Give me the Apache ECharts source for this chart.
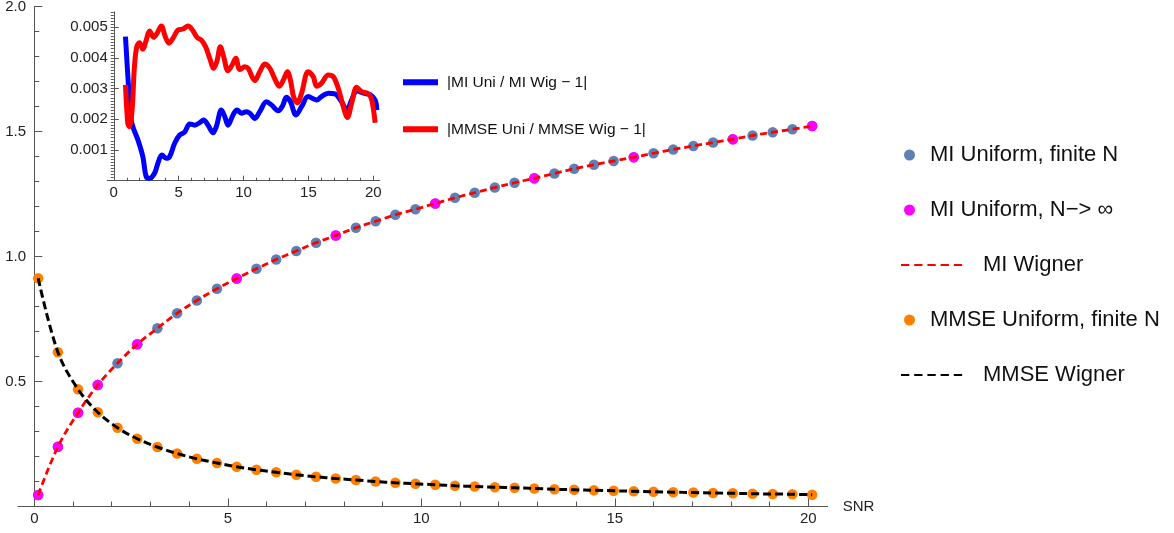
<!DOCTYPE html>
<html><head><meta charset="utf-8">
<script src="https://cdn.jsdelivr.net/npm/echarts@6/dist/echarts.min.js"></script>
<style>html,body{margin:0;padding:0;background:#fff}#c{width:1174px;height:533px}</style>
</head><body><div id="c"></div>
<script>
// ---- data ----
const snr = [0.1, 0.61, 1.13, 1.64, 2.15, 2.66, 3.18, 3.69, 4.2, 4.72, 5.23, 5.74, 6.25, 6.77, 7.28, 7.79, 8.31, 8.82, 9.33, 9.85,
  10.36, 10.87, 11.38, 11.9, 12.41, 12.92, 13.44, 13.95, 14.46, 14.97, 15.49, 16.0, 16.51, 17.03, 17.54, 18.05, 18.56, 19.08, 19.59, 20.1];
const miUniform = [0.046, 0.239, 0.375, 0.486, 0.573, 0.649, 0.713, 0.773, 0.824, 0.871, 0.912, 0.951, 0.988, 1.022, 1.055, 1.084, 1.115, 1.141, 1.167, 1.189,
  1.212, 1.235, 1.255, 1.276, 1.295, 1.313, 1.332, 1.351, 1.367, 1.382, 1.397, 1.413, 1.428, 1.442, 1.456, 1.469, 1.484, 1.497, 1.509, 1.522];
const miInfSnr = [0.1, 0.61, 1.13, 1.64, 2.66, 5.23, 7.79, 10.36, 12.92, 15.49, 18.05, 20.1];
const miInf = [0.046, 0.239, 0.375, 0.486, 0.649, 0.912, 1.084, 1.212, 1.313, 1.397, 1.469, 1.522];
const mmseUniform = [0.913, 0.617, 0.469, 0.377, 0.315, 0.271, 0.238, 0.212, 0.191, 0.174, 0.159, 0.147, 0.137, 0.127, 0.119, 0.112, 0.106, 0.1, 0.095, 0.091,
  0.087, 0.083, 0.08, 0.077, 0.075, 0.072, 0.069, 0.067, 0.065, 0.063, 0.061, 0.059, 0.057, 0.056, 0.054, 0.053, 0.051, 0.05, 0.049, 0.047];
// Wigner curves (pass through the finite-N points)
const miWigner = miUniform;
const mmseWigner = mmseUniform;

// inset: relative differences
const diffMiX = [0.9, 1.1, 1.3, 1.47, 1.86, 2.24, 2.5, 2.76, 3.14, 3.4, 3.71, 4.04, 4.3, 4.69, 5.08, 5.46, 5.85, 6.23, 6.62, 6.93,
  7.26, 7.65, 7.9, 8.29, 8.55, 8.8, 9.19, 9.5, 9.84, 10.22, 10.48, 10.87, 11.25, 11.77, 12.15, 12.67, 13.0, 13.3, 13.62, 14.04,
  14.47, 14.98, 15.63, 16.0, 16.53, 17.04, 17.56, 17.95, 18.33, 18.72, 19.24, 19.75, 20.14, 20.27];
const diffMi = [0.00469, 0.0033, 0.0021, 0.00176, 0.00133, 0.00078, 0.00013, 0.00008, 0.00024, 0.00057, 0.00084, 0.00073, 0.00078, 0.00122, 0.00149, 0.00158, 0.00185, 0.00181, 0.00189, 0.00198,
  0.00181, 0.00156, 0.00176, 0.0023, 0.00209, 0.00181, 0.00214, 0.0023, 0.0022, 0.00225, 0.0022, 0.00203, 0.00225, 0.00257, 0.00247, 0.00228, 0.00243, 0.00272, 0.00257, 0.00214,
  0.00241, 0.00274, 0.00263, 0.00274, 0.00285, 0.00283, 0.00257, 0.0023, 0.00263, 0.00293, 0.00285, 0.0028, 0.00263, 0.0023];
const diffMmseX = [0.9, 1.08, 1.2, 1.41, 1.59, 1.77, 1.98, 2.24, 2.5, 2.76, 3.07, 3.33, 3.66, 3.97, 4.25, 4.56, 4.95, 5.33, 5.72, 6.06,
  6.41, 6.75, 7.08, 7.39, 7.7, 7.96, 8.21, 8.47, 8.8, 9.12, 9.4, 9.71, 10.1, 10.35, 10.87, 11.25, 11.64, 12.03, 12.35, 12.76,
  13.07, 13.38, 13.64, 13.85, 14.15, 14.47, 14.98, 15.37, 15.63, 16.0, 16.53, 16.91, 17.3, 17.69, 18.0, 18.33, 18.72, 19.11, 19.62, 19.88, 20.14];
const diffMmse = [0.00312, 0.00187, 0.00176, 0.0023, 0.00371, 0.00436, 0.00449, 0.00428, 0.00458, 0.00488, 0.00467, 0.0048, 0.00504, 0.00469, 0.00448, 0.00464, 0.00491, 0.00494, 0.00504, 0.00491,
  0.00467, 0.00458, 0.00436, 0.00399, 0.00366, 0.00391, 0.00436, 0.00404, 0.00358, 0.00377, 0.00399, 0.00362, 0.00371, 0.00366, 0.00326, 0.00355, 0.0038, 0.00366, 0.00337, 0.00308,
  0.00328, 0.00355, 0.00322, 0.00274, 0.00254, 0.00285, 0.00355, 0.00339, 0.00308, 0.00317, 0.00344, 0.00339, 0.00301, 0.00241, 0.00206, 0.00252, 0.00304, 0.0029, 0.00283, 0.00263, 0.00189];

// tick positions
const xMainTicks = [0, 5, 10, 15, 20];
const xMainMinorTicks = [1, 2, 3, 4, 6, 7, 8, 9, 11, 12, 13, 14, 16, 17, 18, 19];
const xInsetTicks = [0, 5, 10, 15, 20];
const xInsetMinorTicks = [1, 2, 3, 4, 6, 7, 8, 9, 11, 12, 13, 14, 16, 17, 18, 19];
const yInsetTicks = [0.001, 0.002, 0.003, 0.004, 0.005];

const names = {
  miU: 'MI Uniform, finite N',
  miInf: 'MI Uniform, N\u2212> \u221E',
  miW: 'MI Wigner',
  mmU: 'MMSE Uniform, finite N',
  mmW: 'MMSE Wigner',
  dMi: '|MI Uni / MI Wig \u2212 1|',
  dMm: '|MMSE Uni / MMSE Wig \u2212 1|'
};

// ---- chart ----
const FONT = "'Liberation Sans', Arial, Helvetica, sans-serif";
const AX = '#555';
const TXT = '#222';
function pairs(xa, ya) { return xa.map((x, i) => [x, ya[i]]); }

function xAx(grid, min, max, ticks, len, labels, extra) {
  return Object.assign({
    gridIndex: grid, type: 'value', min: min, max: max, position: 'bottom',
    axisLine: { show: labels, onZero: true, lineStyle: { color: AX, width: 1 } },
    axisTick: { show: true, inside: true, length: len, customValues: ticks, lineStyle: { color: AX, width: 1 } },
    axisLabel: { show: labels, customValues: ticks, margin: 5, fontSize: 15, color: TXT, fontFamily: FONT },
    splitLine: { show: false }
  }, extra || {});
}

const chart = echarts.init(document.getElementById('c'), null, { renderer: 'canvas' });

function legendItem(name, left, rowY, kind, size) {
  const isDot = kind === 'dot', isBar = kind === 'bar';
  const lh = isBar ? 18 : 24;
  const o = {
    data: [name], left: left, top: rowY - lh / 2, padding: 0, selectedMode: false,
    itemWidth: isDot ? 11 : (isBar ? 35 : 63),
    itemHeight: isDot ? 11 : (isBar ? 6 : 14),
    textStyle: { fontSize: size, color: '#111', fontFamily: FONT, lineHeight: lh,
      padding: [0, 0, 0, isDot ? 10 : (isBar ? 4 : 14)] }
  };
  if (isBar) o.icon = 'rect';
  if (kind === 'line') {
    o.lineStyle = { width: 2, type: [8.3, 4.9], opacity: 1 };
    o.itemStyle = { opacity: 0 };
  }
  return o;
}

const option = {
  animation: false,
  backgroundColor: '#fff',
  textStyle: { fontFamily: FONT },
  grid: [
    { left: 18.05, top: 6.5, width: 809.6, height: 500, containLabel: false, outerBoundsMode: 'none' },
    { left: 107.3, top: 11.85, width: 272.5, height: 168.85, containLabel: false, outerBoundsMode: 'none' }
  ],
  xAxis: [
    xAx(0, -0.42, 20.5, xMainTicks, 8, true, {
      name: 'SNR', nameLocation: 'end', nameGap: 15,
      nameTextStyle: { fontSize: 15, color: TXT, fontFamily: FONT }
    }),
    xAx(0, -0.42, 20.5, xMainMinorTicks, 5, false),
    xAx(1, -0.5, 20.5, xInsetTicks, 5, true),
    xAx(1, -0.5, 20.5, xInsetMinorTicks, 3, false)
  ],
  yAxis: [
    {
      gridIndex: 0, type: 'value', min: 0, max: 2, interval: 0.5,
      axisLine: { show: true, onZero: true, lineStyle: { color: AX, width: 1 } },
      axisTick: { show: true, inside: true, length: 8, lineStyle: { color: AX } },
      minorTick: { show: true, splitNumber: 5, length: 5, lineStyle: { color: AX } },
      axisLabel: { margin: -8, fontSize: 15, color: TXT, fontFamily: FONT,
        formatter: v => (v === 0 ? '' : v.toFixed(1)) },
      splitLine: { show: false }, minorSplitLine: { show: false }
    },
    {
      gridIndex: 1, type: 'value', min: 0, max: 0.0055,
      axisLine: { show: true, onZero: true, lineStyle: { color: AX, width: 1 } },
      axisTick: { show: true, inside: true, length: 5, customValues: yInsetTicks, lineStyle: { color: AX } },
      axisLabel: { customValues: yInsetTicks, margin: -0.5, fontSize: 15, color: TXT, fontFamily: FONT,
        formatter: v => v.toFixed(3) },
      splitLine: { show: false }
    },
    {
      gridIndex: 1, type: 'value', min: 0, max: 0.0055, interval: 0.0001,
      axisLine: { show: false, onZero: true },
      axisTick: { show: true, inside: true, length: 3, lineStyle: { color: AX } },
      axisLabel: { show: false },
      splitLine: { show: false }
    }
  ],
  legend: [
    legendItem(names.miU, 904, 155, 'dot', 22),
    legendItem(names.miInf, 904, 210, 'dot', 22),
    legendItem(names.miW, 900, 265, 'line', 22),
    legendItem(names.mmU, 904, 320, 'dot', 22),
    legendItem(names.mmW, 900, 375, 'line', 22),
    legendItem(names.dMi, 403, 82.3, 'bar', 15.5),
    legendItem(names.dMm, 403, 129.3, 'bar', 15.5)
  ],
  series: [
    { name: names.miU, type: 'scatter', xAxisIndex: 0, yAxisIndex: 0, data: pairs(snr, miUniform),
      symbol: 'circle', symbolSize: 10.5, itemStyle: { color: '#5E81B5', opacity: 1 }, z: 2, clip: false },
    { name: names.miInf, type: 'scatter', xAxisIndex: 0, yAxisIndex: 0, data: pairs(miInfSnr, miInf),
      symbol: 'circle', symbolSize: 10.5, itemStyle: { color: '#FF00FF', opacity: 1 }, z: 3, clip: false },
    { name: names.mmU, type: 'scatter', xAxisIndex: 0, yAxisIndex: 0, data: pairs(snr, mmseUniform),
      symbol: 'circle', symbolSize: 10.5, itemStyle: { color: '#FF8000', opacity: 1 }, z: 2, clip: false },
    { name: names.miW, type: 'line', xAxisIndex: 0, yAxisIndex: 0, data: pairs(snr, miWigner),
      smooth: 0.35, symbol: 'none', showSymbol: false,
      itemStyle: { color: '#FF0000' }, lineStyle: { color: '#FF0000', width: 2.8, type: [7, 4] }, z: 4, clip: false },
    { name: names.mmW, type: 'line', xAxisIndex: 0, yAxisIndex: 0, data: pairs(snr, mmseWigner),
      smooth: 0.35, symbol: 'none', showSymbol: false,
      itemStyle: { color: '#000000' }, lineStyle: { color: '#000000', width: 3, type: [8, 4] }, z: 4, clip: false },
    { name: names.dMi, type: 'line', xAxisIndex: 2, yAxisIndex: 1, data: pairs(diffMiX, diffMi),
      smooth: 0.35, symbol: 'none', showSymbol: false,
      itemStyle: { color: '#0000FF' }, lineStyle: { color: '#0000FF', width: 5, join: 'round' }, z: 5, clip: false },
    { name: names.dMm, type: 'line', xAxisIndex: 2, yAxisIndex: 1, data: pairs(diffMmseX, diffMmse),
      smooth: 0.35, symbol: 'none', showSymbol: false,
      itemStyle: { color: '#FF0000' }, lineStyle: { color: '#FF0000', width: 5, join: 'round' }, z: 6, clip: false }
  ]
};
chart.setOption(option);
</script></body></html>
